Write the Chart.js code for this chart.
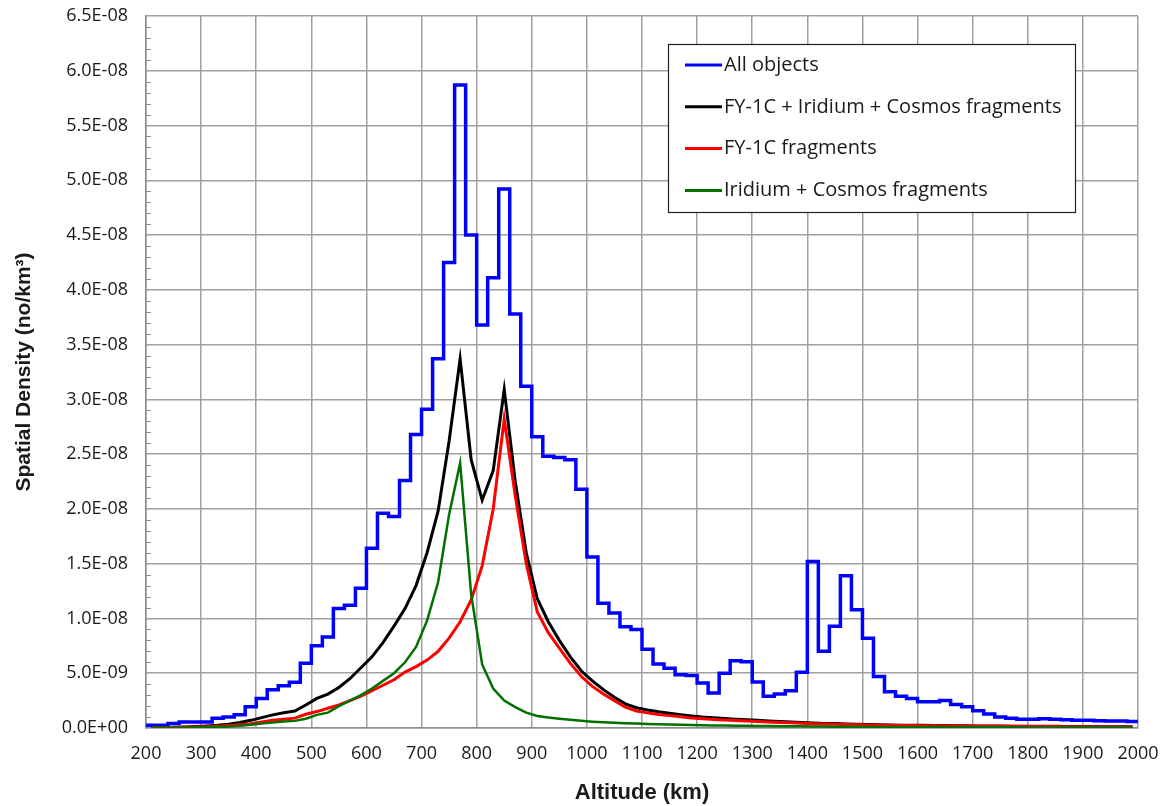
<!DOCTYPE html>
<html>
<head>
<meta charset="utf-8">
<script src="https://cdn.jsdelivr.net/npm/chart.js@4"></script>
<style>
  body { margin: 0; background: #fff; }
  #wrap { width: 1169px; height: 806px; }
</style>
</head>
<body>
<div id="wrap"><canvas id="myChart" width="1169" height="806"></canvas></div>
<script>
// series labels (legend order)
var seriesLabels = ['All objects', 'FY-1C + Iridium + Cosmos fragments', 'FY-1C fragments', 'Iridium + Cosmos fragments'];

// tick labels on the density axis, from 0 upwards
var yTickLabels = ['0.0E+00', '5.0E-09', '1.0E-08', '1.5E-08', '2.0E-08', '2.5E-08', '3.0E-08', '3.5E-08',
  '4.0E-08', '4.5E-08', '5.0E-08', '5.5E-08', '6.0E-08', '6.5E-08'];

// 20 km bin edges (km) for the "All objects" histogram
var binEdges = [200, 220, 240, 260, 280, 300, 320, 340, 360, 380, 400, 420, 440, 460, 480, 500, 520, 540, 560, 580,
  600, 620, 640, 660, 680, 700, 720, 740, 760, 780, 800, 820, 840, 860, 880, 900, 920, 940, 960, 980,
  1000, 1020, 1040, 1060, 1080, 1100, 1120, 1140, 1160, 1180, 1200, 1220, 1240, 1260, 1280, 1300, 1320, 1340, 1360, 1380,
  1400, 1420, 1440, 1460, 1480, 1500, 1520, 1540, 1560, 1580, 1600, 1620, 1640, 1660, 1680, 1700, 1720, 1740, 1760, 1780,
  1800, 1820, 1840, 1860, 1880, 1900, 1920, 1940, 1960, 1980, 2000];

// bin mid points (km) for the fragment curves
var binMids = [210, 230, 250, 270, 290, 310, 330, 350, 370, 390, 410, 430, 450, 470, 490, 510, 530, 550, 570, 590,
  610, 630, 650, 670, 690, 710, 730, 750, 770, 790, 810, 830, 850, 870, 890, 910, 930, 950, 970, 990,
  1010, 1030, 1050, 1070, 1090, 1110, 1130, 1150, 1170, 1190, 1210, 1230, 1250, 1270, 1290, 1310, 1330, 1350, 1370, 1390,
  1410, 1430, 1450, 1470, 1490, 1510, 1530, 1550, 1570, 1590, 1610, 1630, 1650, 1670, 1690, 1710, 1730, 1750, 1770, 1790,
  1810, 1830, 1850, 1870, 1890, 1910, 1930, 1950, 1970, 1990];

// spatial density, in units of 1E-08 no/km3
// one value per bin edge; the last one just closes the final bin at 2000 km
var allObjects = [0.025, 0.025, 0.04, 0.055, 0.055, 0.055, 0.088, 0.10, 0.12, 0.195,
  0.27, 0.35, 0.386, 0.417, 0.59, 0.75, 0.83, 1.09, 1.12, 1.275,
  1.64, 1.96, 1.93, 2.26, 2.68, 2.91, 3.37, 4.25, 5.87, 4.50,
  3.68, 4.11, 4.92, 3.78, 3.12, 2.66, 2.48, 2.47, 2.45, 2.18,
  1.56, 1.14, 1.05, 0.925, 0.90, 0.718, 0.584, 0.545, 0.485, 0.48,
  0.41, 0.32, 0.50, 0.615, 0.605, 0.42, 0.29, 0.31, 0.34, 0.51,
  1.52, 0.70, 0.93, 1.39, 1.08, 0.82, 0.47, 0.33, 0.29, 0.27,
  0.24, 0.24, 0.25, 0.215, 0.195, 0.158, 0.128, 0.10, 0.09, 0.08,
  0.08, 0.085, 0.08, 0.075, 0.07, 0.07, 0.067, 0.065, 0.065, 0.06,
  0.06];

var fyIrCos = [0.003, 0.005, 0.007, 0.01, 0.013, 0.018, 0.025, 0.035, 0.05, 0.07,
  0.095, 0.12, 0.14, 0.155, 0.21, 0.27, 0.31, 0.37, 0.45, 0.55,
  0.65, 0.78, 0.93, 1.09, 1.3, 1.6, 1.98, 2.62, 3.37, 2.45,
  2.08, 2.35, 3.09, 2.25, 1.6, 1.18, 0.97, 0.8, 0.65, 0.52,
  0.43, 0.35, 0.28, 0.22, 0.185, 0.165, 0.148, 0.135, 0.122, 0.11,
  0.1, 0.093, 0.087, 0.081, 0.075, 0.07, 0.065, 0.06, 0.055, 0.05,
  0.045, 0.042, 0.04, 0.037, 0.034, 0.032, 0.03, 0.028, 0.026, 0.025,
  0.024, 0.023, 0.022, 0.021, 0.02, 0.019, 0.018, 0.018, 0.017, 0.016,
  0.016, 0.015, 0.015, 0.014, 0.014, 0.013, 0.013, 0.012, 0.012, 0.012];

var fy1c = [0.002, 0.003, 0.005, 0.007, 0.009, 0.012, 0.016, 0.022, 0.03, 0.04,
  0.055, 0.07, 0.08, 0.09, 0.125, 0.15, 0.18, 0.21, 0.25, 0.29,
  0.34, 0.39, 0.44, 0.51, 0.56, 0.62, 0.70, 0.82, 0.97, 1.17,
  1.48, 2.0, 2.82, 2.12, 1.5, 1.06, 0.87, 0.73, 0.59, 0.47,
  0.38, 0.31, 0.25, 0.19, 0.155, 0.138, 0.124, 0.113, 0.102, 0.092,
  0.084, 0.078, 0.073, 0.068, 0.063, 0.059, 0.055, 0.051, 0.047, 0.043,
  0.039, 0.036, 0.034, 0.032, 0.03, 0.028, 0.026, 0.025, 0.023, 0.022,
  0.021, 0.02, 0.019, 0.018, 0.017, 0.016, 0.016, 0.015, 0.015, 0.014,
  0.014, 0.013, 0.013, 0.012, 0.012, 0.011, 0.011, 0.011, 0.01, 0.01];

var irCos = [0.001, 0.002, 0.002, 0.003, 0.004, 0.006, 0.009, 0.013, 0.02, 0.03,
  0.04, 0.05, 0.06, 0.065, 0.085, 0.12, 0.14, 0.2, 0.25, 0.3,
  0.36, 0.43, 0.5, 0.6, 0.74, 0.98, 1.33, 1.95, 2.42, 1.22,
  0.58, 0.36, 0.25, 0.19, 0.14, 0.11, 0.095, 0.085, 0.075, 0.066,
  0.058, 0.052, 0.047, 0.043, 0.04, 0.037, 0.034, 0.031, 0.029, 0.027,
  0.025, 0.023, 0.022, 0.021, 0.02, 0.019, 0.018, 0.017, 0.016, 0.015,
  0.014, 0.013, 0.012, 0.011, 0.011, 0.01, 0.01, 0.009, 0.009, 0.008,
  0.008, 0.008, 0.007, 0.007, 0.007, 0.006, 0.006, 0.006, 0.006, 0.005,
  0.005, 0.005, 0.005, 0.005, 0.004, 0.004, 0.004, 0.004, 0.004, 0.004];

var seriesColors = ['#0000ff', '#000000', '#ff0000', '#007000'];

function pts(xs, ys) {
  return xs.map(function (x, i) { return { x: x, y: ys[i] }; });
}

// small inward minor ticks on the density axis + legend box
var extras = {
  id: 'extras',
  afterDraw: function (chart) {
    var c = chart.ctx, y = chart.scales.y, a = chart.chartArea;
    c.save();
    c.strokeStyle = '#8c8c8c';
    c.lineWidth = 1;
    for (var v = 0; v <= 6.5001; v += 0.1) {
      if (Math.abs(v * 2 - Math.round(v * 2)) < 0.01) continue;
      var py = Math.round(y.getPixelForValue(v)) + 0.5;
      c.beginPath();
      c.moveTo(a.left, py);
      c.lineTo(a.left + 5, py);
      c.stroke();
    }
    // legend
    var bx = 668.5, by = 44.5, bw = 407, bh = 168;
    c.fillStyle = '#fff';
    c.fillRect(bx, by, bw, bh);
    c.strokeStyle = '#222';
    c.lineWidth = 1.2;
    c.strokeRect(bx, by, bw, bh);
    c.font = '20px "Open Sans"';
    c.textBaseline = 'middle';
    chart.data.datasets.forEach(function (ds, i) {
      var ly = 65 + i * 41.8;
      c.strokeStyle = ds.borderColor;
      c.lineWidth = 3;
      c.beginPath();
      c.moveTo(685, ly);
      c.lineTo(722, ly);
      c.stroke();
      c.fillStyle = '#1a1a1a';
      c.fillText(ds.label, 724, ly);
    });
    c.restore();
  }
};

var ctx = document.getElementById('myChart').getContext('2d');

var myChart = new Chart(ctx, {
  type: 'line',
  data: {
    datasets: [
      {
        label: seriesLabels[0],
        data: pts(binEdges, allObjects),
        borderColor: seriesColors[0],
        borderWidth: 3.5,
        stepped: 'before',
        pointRadius: 0,
        order: 3
      },
      {
        label: seriesLabels[1],
        data: pts(binMids, fyIrCos),
        borderColor: seriesColors[1],
        borderWidth: 3,
        pointRadius: 0,
        order: 2
      },
      {
        label: seriesLabels[2],
        data: pts(binMids, fy1c),
        borderColor: seriesColors[2],
        borderWidth: 3,
        pointRadius: 0,
        order: 1
      },
      {
        label: seriesLabels[3],
        data: pts(binMids, irCos),
        borderColor: seriesColors[3],
        borderWidth: 2.5,
        pointRadius: 0,
        order: 0
      }
    ]
  },
  options: {
    responsive: false,
    animation: false,
    devicePixelRatio: 1,
    layout: { padding: { top: 16, right: 31, left: 0, bottom: 0 } },
    plugins: {
      legend: { display: false },
      tooltip: { enabled: false }
    },
    scales: {
      x: {
        type: 'linear',
        min: 200,
        max: 2000,
        afterFit: function (s) { s.height = 78; s.paddingLeft = 0; s.paddingRight = 0; },
        ticks: {
          stepSize: 100,
          padding: 15,
          color: '#1a1a1a',
          font: { family: 'Open Sans', size: 18 },
          maxRotation: 0,
          callback: function (v) { return String(v); }
        },
        grid: { color: '#a0a0a0', lineWidth: 1.5, drawTicks: false },
        border: { color: '#8c8c8c', width: 1.5 },
        title: {
          display: true,
          text: 'Altitude (km)',
          color: '#1a1a1a',
          font: { family: 'Liberation Sans', size: 22, weight: 'bold' },
          padding: { top: 0, bottom: 0 }
        }
      },
      y: {
        min: 0,
        max: 6.5,
        afterFit: function (s) { s.width = 146; s.paddingTop = 0; s.paddingBottom = 0; },
        ticks: {
          stepSize: 0.5,
          padding: 18,
          color: '#1a1a1a',
          font: { family: 'Open Sans', size: 18 },
          callback: function (v, i) { return yTickLabels[i]; }
        },
        grid: { color: '#a0a0a0', lineWidth: 1.5, drawTicks: false },
        border: { color: '#8c8c8c', width: 1.5 },
        title: {
          display: true,
          text: 'Spatial Density (no/km\u00b3)',
          color: '#1a1a1a',
          font: { family: 'Liberation Sans', size: 21, weight: 'bold' },
          padding: { top: 12, bottom: 0 }
        }
      }
    }
  },
  plugins: [extras]
});
</script>
</body>
</html>
